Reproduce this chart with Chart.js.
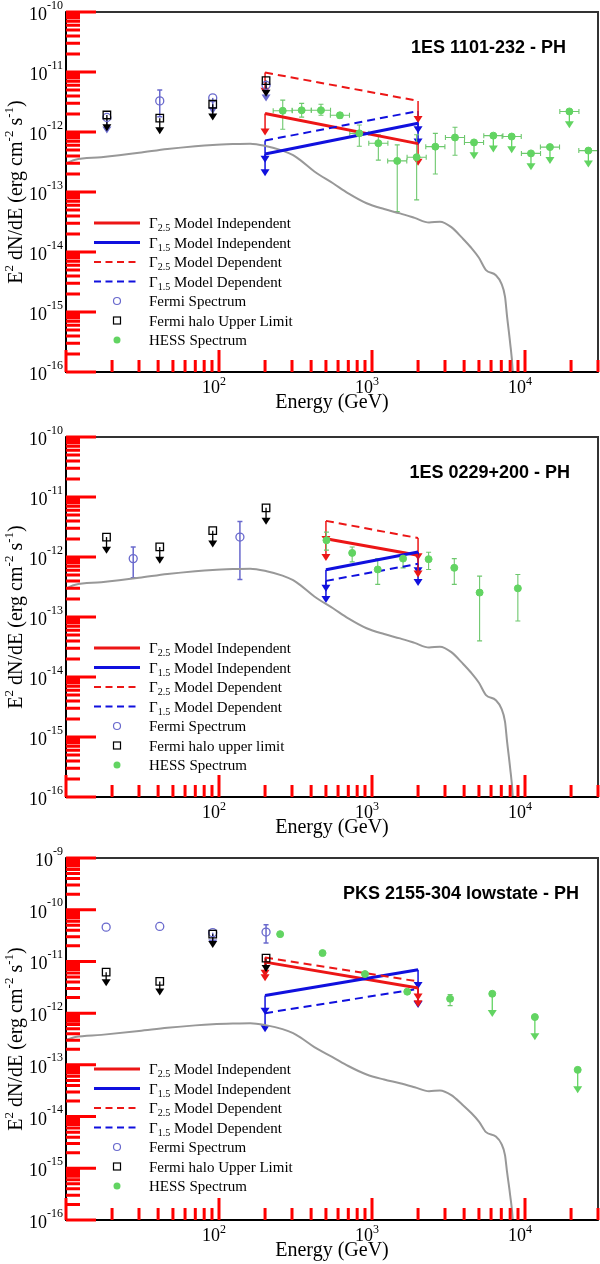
<!DOCTYPE html>
<html>
<head>
<meta charset="utf-8">
<script src="https://cdn.jsdelivr.net/npm/chart.js@4.4.0/dist/chart.umd.min.js"></script>
<style>
  body { margin: 0; background: #fff; }
  .panel { position: relative; width: 600px; }
  canvas { display: block; }
</style>
</head>
<body>
<div class="panel" style="height:421px"><canvas id="c1"></canvas></div>
<div class="panel" style="height:422px"><canvas id="c2"></canvas></div>
<div class="panel" style="height:421px"><canvas id="c3"></canvas></div>
<script>
// Energy axis (GeV), same for all three panels
const eMin = 10;
const eMax = 30000;
const xLabelDecades = [100, 1000, 10000];

// grey cascade curve, identical in every panel
const curveE = [10, 11.5, 17, 30, 46, 70, 91, 123, 160, 205, 260, 305, 340, 420, 556, 700, 922, 1200, 1525, 1900, 2360, 2780, 3300, 3900, 4420, 5000, 5560, 6450, 7000, 7400, 7640, 8000, 8320, 8600];
const curveF = [3.0e-13, 3.45e-13, 3.8e-13, 4.5e-13, 5.2e-13, 5.8e-13, 6.1e-13, 6.3e-13, 6.4e-13, 5.8e-13, 4.9e-13, 4.1e-13, 3.4e-13, 2.2e-13, 1.4e-13, 9.5e-14, 6.5e-14, 5.2e-14, 4.4e-14, 3.7e-14, 3.1e-14, 3.2e-14, 2.6e-14, 1.7e-14, 1.2e-14, 8e-15, 5e-15, 4.1e-15, 3e-15, 1.8e-15, 8.3e-16, 3e-16, 1e-16, 1e-17];

// ---- panel 1: 1ES 1101-232 ----
const p1Title = '1ES 1101-232 - PH';
const p1YRange = [1e-16, 1e-10];
const p1ModelE = [200, 2000];
const p1RedSolid = [2.04e-12, 6.4e-13];
const p1BlueSolid = [4.3e-13, 1.4e-12];
const p1RedDash = [9.8e-12, 3.3e-12];
const p1BlueDash = [7.2e-13, 2.24e-12];
const p1FermiE = [18.5, 41, 91, 203];
const p1FermiF = [1.75e-12, 3.3e-12, 3.7e-12, 6.0e-12];
const p1FermiHi = [null, 5.0e-12, null, null];
const p1FermiLo = [null, 1.8e-12, null, null];
const p1FermiUL = [true, false, true, true];
const p1HaloE = [18.5, 41, 91, 203];
const p1HaloF = [1.92e-12, 1.7e-12, 2.9e-12, 7.2e-12];
const p1HessE = [261, 347, 464, 617, 826, 1100, 1462, 1958, 2594, 3487, 4642, 6210, 8184, 10940, 14560, 19500, 25950];
const p1HessF = [2.26e-12, 2.3e-12, 2.3e-12, 1.9e-12, 9.5e-13, 6.5e-13, 3.3e-13, 3.8e-13, 5.7e-13, 8.1e-13, 6.7e-13, 8.7e-13, 8.4e-13, 4.4e-13, 5.6e-13, 2.2e-12, 4.9e-13];
const p1HessHi = [3.4e-12, 3.0e-12, 2.9e-12, 2.1e-12, 1.31e-12, 9.0e-13, 6.1e-13, 9.0e-13, 9.5e-13, 1.2e-12, null, null, null, null, null, null, null];
const p1HessLo = [1.11e-12, 1.77e-12, 1.9e-12, 1.7e-12, 5.8e-13, 3.4e-13, 4.7e-14, 7.4e-14, 2.0e-13, 4.1e-13, null, null, null, null, null, null, null];
const p1HessUL = [false, false, false, false, false, false, false, false, false, false, true, true, true, true, true, true, true];

// ---- panel 2: 1ES 0229+200 ----
const p2Title = '1ES 0229+200 - PH';
const p2YRange = [1e-16, 1e-10];
const p2ModelE = [500, 2000];
const p2RedSolid = [2.02e-12, 1.07e-12];
const p2BlueSolid = [6.15e-13, 1.21e-12];
const p2RedDash = [4.0e-12, 2.07e-12];
const p2BlueDash = [4.0e-13, 7.7e-13];
const p2FermiE = [27.5, 137];
const p2FermiF = [9.4e-13, 2.15e-12];
const p2FermiHi = [1.47e-12, 3.9e-12];
const p2FermiLo = [4.5e-13, 4.2e-13];
const p2FermiUL = [false, false];
const p2HaloE = [18.4, 41, 91, 203];
const p2HaloF = [2.15e-12, 1.47e-12, 2.75e-12, 6.6e-12];
const p2HessE = [504, 742, 1090, 1596, 2344, 3450, 5050, 8980];
const p2HessF = [1.9e-12, 1.17e-12, 6.2e-13, 9.4e-13, 9.2e-13, 6.6e-13, 2.55e-13, 3.0e-13];
const p2HessHi = [2.6e-12, 1.47e-12, 9.4e-13, 1.2e-12, 1.2e-12, 9.4e-13, 4.8e-13, 5.1e-13];
const p2HessLo = [1.3e-12, 8.3e-13, 3.5e-13, 6.6e-13, 6.2e-13, 3.5e-13, 4e-14, 8.6e-14];
const p2HessUL = [false, false, false, false, false, false, false, false];

// ---- panel 3: PKS 2155-304 lowstate ----
const p3Title = 'PKS 2155-304 lowstate - PH';
const p3YRange = [1e-16, 1e-9];
const p3ModelE = [200, 2000];
const p3RedSolid = [9.7e-12, 3.05e-12];
const p3BlueSolid = [2.19e-12, 6.9e-12];
const p3RedDash = [1.19e-11, 4.1e-12];
const p3BlueDash = [1.0e-12, 2.95e-12];
const p3FermiE = [18.3, 41, 91, 203];
const p3FermiF = [4.6e-11, 4.75e-11, 3.6e-11, 3.7e-11];
const p3FermiHi = [null, null, null, 5.1e-11];
const p3FermiLo = [null, null, null, 2.26e-11];
const p3FermiUL = [false, false, true, false];
const p3HaloE = [18.3, 41, 91, 203];
const p3HaloF = [6.2e-12, 4.1e-12, 3.37e-11, 1.16e-11];
const p3HessE = [251, 475, 900, 1700, 3240, 6110, 11600, 22100];
const p3HessF = [3.37e-11, 1.45e-11, 5.7e-12, 2.6e-12, 1.9e-12, 2.37e-12, 8.4e-13, 8.0e-14];
const p3HessHi = [null, null, null, null, 2.3e-12, null, null, null];
const p3HessLo = [null, null, null, null, 1.4e-12, null, null, null];
const p3HessUL = [false, false, false, false, false, true, true, true];

// tick positions inside each decade (minor ticks at 2..9)
const decadeSteps = [1, 2, 3, 4, 5, 6, 7, 8, 9];

// colours
const RED = 'rgb(236,22,22)';
const BLUE = 'rgb(16,16,222)';
const FERMI = 'rgb(105,105,205)';
const GREEN = 'rgb(98,212,98)';
const GREEN_BAR = 'rgb(110,200,110)';
const GREY = 'rgb(152,152,152)';
const SERIF = '"Liberation Serif", "Times New Roman", serif';
const SANS = '"Liberation Sans", Arial, sans-serif';

function pts(xs, ys) {
    return xs.map((x, i) => ({ x: x, y: ys[i] }));
}

// draws a run of text pieces [text, size, dy] starting at x
function drawPieces(ctx, pieces, x, y) {
    pieces.forEach(p => {
        ctx.font = p[1] + 'px ' + SERIF;
        ctx.fillText(p[0], x, y + p[2]);
        x += ctx.measureText(p[0]).width;
    });
    return x;
}

function piecesWidth(ctx, pieces) {
    let w = 0;
    pieces.forEach(p => {
        ctx.font = p[1] + 'px ' + SERIF;
        w += ctx.measureText(p[0]).width;
    });
    return w;
}

function arrowDown(ctx, x, yFrom, yTip, color, lw, hw, hh) {
    ctx.strokeStyle = color;
    ctx.fillStyle = color;
    ctx.lineWidth = lw;
    ctx.setLineDash([]);
    ctx.beginPath();
    ctx.moveTo(x, yFrom);
    ctx.lineTo(x, yTip - hh + 1);
    ctx.stroke();
    ctx.beginPath();
    ctx.moveTo(x - hw, yTip - hh);
    ctx.lineTo(x + hw, yTip - hh);
    ctx.lineTo(x, yTip);
    ctx.closePath();
    ctx.fill();
}

function vBar(ctx, x, y1, y2, color, lw, cap) {
    ctx.strokeStyle = color;
    ctx.lineWidth = lw;
    ctx.setLineDash([]);
    ctx.beginPath();
    ctx.moveTo(x, y1); ctx.lineTo(x, y2);
    ctx.moveTo(x - cap, y1); ctx.lineTo(x + cap, y1);
    ctx.moveTo(x - cap, y2); ctx.lineTo(x + cap, y2);
    ctx.stroke();
}

function hBar(ctx, x1, x2, y, color, lw, cap) {
    ctx.strokeStyle = color;
    ctx.lineWidth = lw;
    ctx.beginPath();
    ctx.moveTo(x1, y); ctx.lineTo(x2, y);
    ctx.moveTo(x1, y - cap); ctx.lineTo(x1, y + cap);
    ctx.moveTo(x2, y - cap); ctx.lineTo(x2, y + cap);
    ctx.stroke();
}

// inward tick marks on the left and bottom axes
function drawTicks(chart) {
    const ctx = chart.ctx;
    const a = chart.chartArea;
    const xs = chart.scales.x, ys = chart.scales.y;
    const yLo = Math.round(Math.log10(ys.min)), yHi = Math.round(Math.log10(ys.max));
    ctx.save();
    ctx.setLineDash([]);
    ctx.strokeStyle = 'red';
    ctx.lineWidth = 3;
    ctx.beginPath();
    for (let k = yLo; k <= yHi; k++) {
        decadeSteps.forEach(m => {
            const v = m * Math.pow(10, k);
            if (v > ys.max * 1.0001) return;
            const py = ys.getPixelForValue(v);
            ctx.moveTo(a.left, py);
            ctx.lineTo(a.left + (m === 1 ? 30 : 14), py);
        });
    }
    for (let k = 1; k <= 4; k++) {
        decadeSteps.forEach(m => {
            const v = m * Math.pow(10, k);
            if (v > eMax) return;
            const px = xs.getPixelForValue(v);
            ctx.moveTo(px, a.bottom);
            ctx.lineTo(px, a.bottom - (m === 1 ? 22 : 12));
        });
    }
    ctx.stroke();
    ctx.restore();
}

const tickMarks = {
    id: 'tickMarks',
    afterDraw(chart) { drawTicks(chart); }
};

// errors, upper-limit arrows, axes, legend and title
function decor(cfg) {
    return {
        id: 'decor',
        beforeDatasetsDraw(chart) {
            const ctx = chart.ctx;
            const xs = chart.scales.x, ys = chart.scales.y;
            const X = v => xs.getPixelForValue(v);
            const Y = v => ys.getPixelForValue(v);
            const down = (v, dex) => Y(v * Math.pow(10, -dex));
            const a = chart.chartArea;
            ctx.save();
            ctx.beginPath();
            ctx.rect(a.left, a.top, a.right - a.left, a.bottom - a.top);
            ctx.clip();

            cfg.models.forEach(m => {
                m.f.forEach((f, i) => {
                    arrowDown(ctx, X(cfg.modelE[i]), Y(f), down(f, cfg.modelDex), m.color, 1.5, 4.5, 7);
                });
            });

            cfg.fermiE.forEach((e, i) => {
                const x = X(e);
                if (cfg.fermiUL[i]) {
                    arrowDown(ctx, x, Y(cfg.fermiF[i]), down(cfg.fermiF[i], cfg.fermiDex), FERMI, 1.5, 4.5, 7);
                } else if (cfg.fermiHi[i] !== null) {
                    vBar(ctx, x, Y(cfg.fermiHi[i]), Y(cfg.fermiLo[i]), FERMI, 1.5, 2.5);
                }
            });

            cfg.haloE.forEach((e, i) => {
                arrowDown(ctx, X(e), Y(cfg.haloF[i]), down(cfg.haloF[i], cfg.haloDex), '#000', 1.3, 4.5, 7);
            });

            cfg.hessE.forEach((e, i) => {
                const x = X(e), y = Y(cfg.hessF[i]);
                if (cfg.hessBin) {
                    const k = Math.pow(10, cfg.hessBin);
                    hBar(ctx, X(e / k), X(e * k), y, GREEN_BAR, 1.1, 2.5);
                }
                if (cfg.hessUL[i]) {
                    arrowDown(ctx, x, y, down(cfg.hessF[i], cfg.hessDex), GREEN, 1.3, 4.5, 7);
                } else if (cfg.hessHi[i] !== null) {
                    vBar(ctx, x, Y(cfg.hessHi[i]), Y(cfg.hessLo[i]), GREEN_BAR, 1.1, 2.5);
                }
            });
            ctx.restore();
        },
        afterDraw(chart) {
            const ctx = chart.ctx;
            const xs = chart.scales.x, ys = chart.scales.y;
            const a = chart.chartArea;
            ctx.save();
            ctx.setLineDash([]);
            ctx.textBaseline = 'alphabetic';

            ctx.lineWidth = 2;
            ctx.strokeStyle = '#333';
            ctx.strokeRect(a.left, a.top, a.right - a.left, a.bottom - a.top);
            ctx.strokeStyle = '#000';
            ctx.beginPath();
            ctx.moveTo(a.left, a.top); ctx.lineTo(a.left, a.bottom); ctx.lineTo(a.right, a.bottom);
            ctx.stroke();

            const k0 = Math.round(Math.log10(cfg.yRange[0])), k1 = Math.round(Math.log10(cfg.yRange[1]));
            ctx.fillStyle = '#000';
            for (let k = k0; k <= k1; k++) {
                const py = ys.getPixelForValue(Math.pow(10, k));
                const pieces = [['10', 18, 8], [String(k), 12, -3.5]];
                const w = piecesWidth(ctx, pieces);
                drawPieces(ctx, pieces, 63 - w, py);
            }
            xLabelDecades.forEach(d => {
                const px = xs.getPixelForValue(d);
                ctx.font = '18px ' + SERIF;
                const wb = ctx.measureText('10').width;
                drawPieces(ctx, [['10', 18, 21], [String(Math.round(Math.log10(d))), 12, 13]], px - wb + 1, a.bottom);
            });

            ctx.font = '20px ' + SERIF;
            ctx.textAlign = 'center';
            ctx.fillText('Energy (GeV)', (a.left + a.right) / 2, a.bottom + 36);
            ctx.textAlign = 'left';
            const yt = [['E', 20, 0], ['2', 13, -9], [' dN/dE (erg cm', 20, 0], ['-2', 13, -9], [' s', 20, 0], ['-1', 13, -9], [')', 20, 0]];
            ctx.save();
            ctx.translate(22, (a.top + a.bottom) / 2);
            ctx.rotate(-Math.PI / 2);
            drawPieces(ctx, yt, -piecesWidth(ctx, yt) / 2, 0);
            ctx.restore();

            ctx.font = 'bold 18px ' + SANS;
            ctx.textAlign = 'right';
            ctx.fillText(cfg.title, cfg.titleRight, a.top + 41);
            ctx.textAlign = 'left';

            const rows = [
                { kind: 'line', color: RED, w: 3, dash: [], sub: '2.5', text: ' Model Independent' },
                { kind: 'line', color: BLUE, w: 3, dash: [], sub: '1.5', text: ' Model Independent' },
                { kind: 'line', color: RED, w: 2, dash: [7, 4.5], sub: '2.5', text: ' Model Dependent' },
                { kind: 'line', color: BLUE, w: 2, dash: [7, 4.5], sub: '1.5', text: ' Model Dependent' },
                { kind: 'circle', text: 'Fermi Spectrum' },
                { kind: 'square', text: cfg.haloLabel },
                { kind: 'dot', text: 'HESS Spectrum' }
            ];
            rows.forEach((r, i) => {
                const cy = a.top + 211 + i * 19.5;
                if (r.kind === 'line') {
                    ctx.strokeStyle = r.color;
                    ctx.lineWidth = r.w;
                    ctx.setLineDash(r.dash);
                    ctx.beginPath();
                    ctx.moveTo(94, cy); ctx.lineTo(140, cy);
                    ctx.stroke();
                    ctx.setLineDash([]);
                    ctx.fillStyle = '#000';
                    drawPieces(ctx, [['\u0393', 15, 0], [r.sub, 10, 3], [r.text, 15, 0]], 149, cy + 5);
                } else {
                    ctx.lineWidth = 1.2;
                    if (r.kind === 'circle') {
                        ctx.strokeStyle = FERMI;
                        ctx.beginPath(); ctx.arc(117, cy, 3.5, 0, Math.PI * 2); ctx.stroke();
                    } else if (r.kind === 'square') {
                        ctx.strokeStyle = '#000';
                        ctx.strokeRect(113.5, cy - 3.5, 7, 7);
                    } else {
                        ctx.fillStyle = GREEN;
                        ctx.beginPath(); ctx.arc(117, cy, 3.5, 0, Math.PI * 2); ctx.fill();
                    }
                    ctx.fillStyle = '#000';
                    drawPieces(ctx, [[r.text, 15, 0]], 149, cy + 5);
                }
            });
            ctx.restore();
        }
    };
}

function makePanel(id, cfg) {
    const datasets = [
        { data: pts(cfg.hessE, cfg.hessF), pointStyle: 'circle', pointRadius: 3.5, backgroundColor: GREEN, borderColor: GREEN, borderWidth: 1 },
        { data: pts(cfg.haloE, cfg.haloF), pointStyle: 'rect', pointRadius: 5.3, backgroundColor: 'rgba(255,255,255,0)', borderColor: '#000', borderWidth: 1.3 },
        { data: pts(cfg.fermiE, cfg.fermiF), pointStyle: 'circle', pointRadius: 4, backgroundColor: 'rgba(255,255,255,0)', borderColor: FERMI, borderWidth: 1.3 }
    ];
    cfg.models.forEach(m => {
        datasets.push({ data: pts(cfg.modelE, m.f), showLine: true, pointRadius: 0, borderColor: m.color, borderWidth: m.dash.length ? 2 : 3, borderDash: m.dash });
    });
    datasets.push({ data: pts(curveE, curveF), showLine: true, pointRadius: 0, borderColor: GREY, borderWidth: 2, cubicInterpolationMode: 'monotone' });

    new Chart(document.getElementById(id), {
        type: 'scatter',
        data: { datasets: datasets },
        options: {
            responsive: true,
            maintainAspectRatio: false,
            animation: false,
            layout: { autoPadding: false, padding: { left: 66, right: 2, top: cfg.padTop, bottom: cfg.padBottom } },
            scales: {
                x: { type: 'logarithmic', min: eMin, max: eMax, display: false },
                y: { type: 'logarithmic', min: cfg.yRange[0], max: cfg.yRange[1], display: false }
            },
            plugins: { legend: { display: false }, tooltip: { enabled: false } }
        },
        plugins: [decor(cfg), tickMarks]
    });
}

makePanel('c1', {
    title: p1Title, titleRight: 566, haloLabel: 'Fermi halo Upper Limit',
    yRange: p1YRange, padTop: 12, padBottom: 49,
    modelE: p1ModelE,
    models: [
        { f: p1BlueDash, color: BLUE, dash: [8, 5] },
        { f: p1RedDash, color: RED, dash: [8, 5] },
        { f: p1BlueSolid, color: BLUE, dash: [] },
        { f: p1RedSolid, color: RED, dash: [] }
    ],
    modelDex: 0.37, fermiDex: 0.27, haloDex: 0.27, hessDex: 0.28, hessBin: 0.0625,
    fermiE: p1FermiE, fermiF: p1FermiF, fermiHi: p1FermiHi, fermiLo: p1FermiLo, fermiUL: p1FermiUL,
    haloE: p1HaloE, haloF: p1HaloF,
    hessE: p1HessE, hessF: p1HessF, hessHi: p1HessHi, hessLo: p1HessLo, hessUL: p1HessUL
});

makePanel('c2', {
    title: p2Title, titleRight: 570, haloLabel: 'Fermi halo upper limit',
    yRange: p2YRange, padTop: 16, padBottom: 46,
    modelE: p2ModelE,
    models: [
        { f: p2BlueDash, color: BLUE, dash: [8, 5] },
        { f: p2RedDash, color: RED, dash: [8, 5] },
        { f: p2BlueSolid, color: BLUE, dash: [] },
        { f: p2RedSolid, color: RED, dash: [] }
    ],
    modelDex: 0.37, fermiDex: 0.27, haloDex: 0.28, hessDex: 0.3, hessBin: 0,
    fermiE: p2FermiE, fermiF: p2FermiF, fermiHi: p2FermiHi, fermiLo: p2FermiLo, fermiUL: p2FermiUL,
    haloE: p2HaloE, haloF: p2HaloF,
    hessE: p2HessE, hessF: p2HessF, hessHi: p2HessHi, hessLo: p2HessLo, hessUL: p2HessUL
});

makePanel('c3', {
    title: p3Title, titleRight: 579, haloLabel: 'Fermi halo Upper Limit',
    yRange: p3YRange, padTop: 15, padBottom: 44,
    modelE: p3ModelE,
    models: [
        { f: p3BlueDash, color: BLUE, dash: [8, 5] },
        { f: p3RedDash, color: RED, dash: [8, 5] },
        { f: p3BlueSolid, color: BLUE, dash: [] },
        { f: p3RedSolid, color: RED, dash: [] }
    ],
    modelDex: 0.37, fermiDex: 0.27, haloDex: 0.27, hessDex: 0.45, hessBin: 0,
    fermiE: p3FermiE, fermiF: p3FermiF, fermiHi: p3FermiHi, fermiLo: p3FermiLo, fermiUL: p3FermiUL,
    haloE: p3HaloE, haloF: p3HaloF,
    hessE: p3HessE, hessF: p3HessF, hessHi: p3HessHi, hessLo: p3HessLo, hessUL: p3HessUL
});
</script>
</body>
</html>
